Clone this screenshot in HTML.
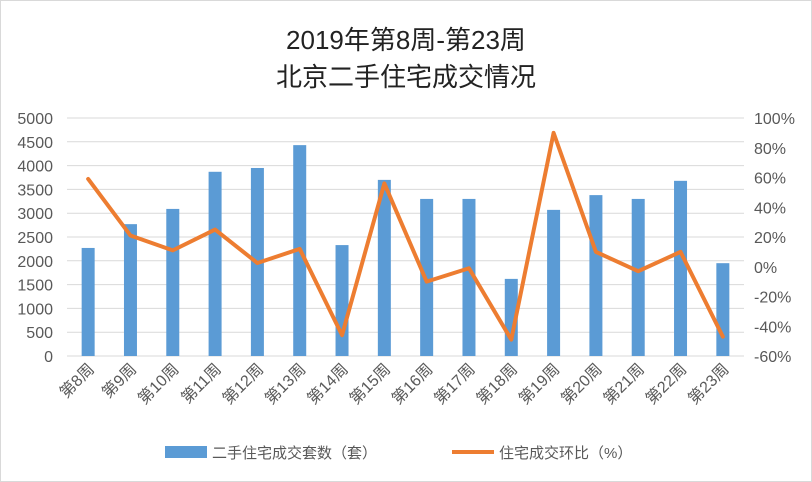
<!DOCTYPE html>
<html><head><meta charset="utf-8"><style>
body{margin:0;background:#fff;}
svg{display:block;font-family:"Liberation Sans","Noto Sans CJK SC",sans-serif;}
</style></head><body>
<svg id="c" width="812" height="482">
<rect x="0.5" y="0.5" width="811" height="481" fill="#fff" stroke="#d9d9d9"/>
<text x="406" y="49" text-anchor="middle" font-size="26" fill="#222">2019年第8周-第23周</text>
<text x="406" y="86" text-anchor="middle" font-size="26" fill="#222">北京二手住宅成交情况</text>
<g id="grid"></g><g id="bars"></g><g id="line"></g><g id="axes"></g>
<g>
<rect x="165" y="446" width="42" height="12" fill="#5b9bd5"/>
<text x="212" y="458" font-size="15" fill="#595959">二手住宅成交套数（套）</text>
<line x1="452" y1="452" x2="494" y2="452" stroke="#ed7d31" stroke-width="4"/>
<text x="499" y="458" font-size="15" fill="#595959">住宅成交环比（%）</text>
</g>
</svg>
<script>
const categories=["第8周","第9周","第10周","第11周","第12周","第13周","第14周","第15周","第16周","第17周","第18周","第19周","第20周","第21周","第22周","第23周"];
const volumes=[2270,2770,3090,3870,3950,4430,2330,3700,3300,3300,1620,3070,3380,3300,3680,1950];
const changes=[59,21,11,25,2.5,12,-46,56,-10,-1,-49,90,10,-3,10,-47];
const leftTicks=[0,500,1000,1500,2000,2500,3000,3500,4000,4500,5000];
const rightTicks=[-60,-40,-20,0,20,40,60,80,100];
const NS="http://www.w3.org/2000/svg";
const X0=67,X1=744,Y0=356,Y1=118;
const band=(X1-X0)/categories.length;
const xc=i=>X0+band*(i+0.5);
const yL=v=>Y0-(v/5000)*(Y0-Y1);
const yR=v=>Y0-((v+60)/160)*(Y0-Y1);
function mk(tag,attrs,parent){const e=document.createElementNS(NS,tag);for(const k in attrs)e.setAttribute(k,attrs[k]);document.getElementById(parent).appendChild(e);return e;}
leftTicks.forEach(t=>{
 const g=mk("line",{x1:X0,x2:X1,y1:yL(t),y2:yL(t),stroke:"#d9d9d9","stroke-width":1},"grid");
 
 
 const tx=mk("text",{x:53,y:yL(t)+6,"text-anchor":"end","font-size":16,fill:"#595959"},"axes");
 tx.textContent=t;
 
 
});
rightTicks.forEach(t=>{
 const tx=mk("text",{x:754,y:yR(t)+6,"font-size":16,fill:"#595959"},"axes");
 tx.textContent=t+"%";
 
 
});
categories.forEach((c,i)=>{
 const b=mk("rect",{x:xc(i)-6.5,y:yL(volumes[i]),width:13,height:Y0-yL(volumes[i]),fill:"#5b9bd5"},"bars");
 
 
 const tx=mk("text",{x:0,y:0,"text-anchor":"end","font-size":16,fill:"#595959",transform:`translate(${xc(i)+7},${Y0+14}) rotate(-45)`},"axes");
 tx.textContent=c;
 
 
});
const pl=mk("polyline",{points:changes.map((v,i)=>xc(i)+","+yR(v)).join(" "),fill:"none",stroke:"#ed7d31","stroke-width":4,"stroke-linejoin":"round","stroke-linecap":"round"},"line");


</script>
</body></html>
